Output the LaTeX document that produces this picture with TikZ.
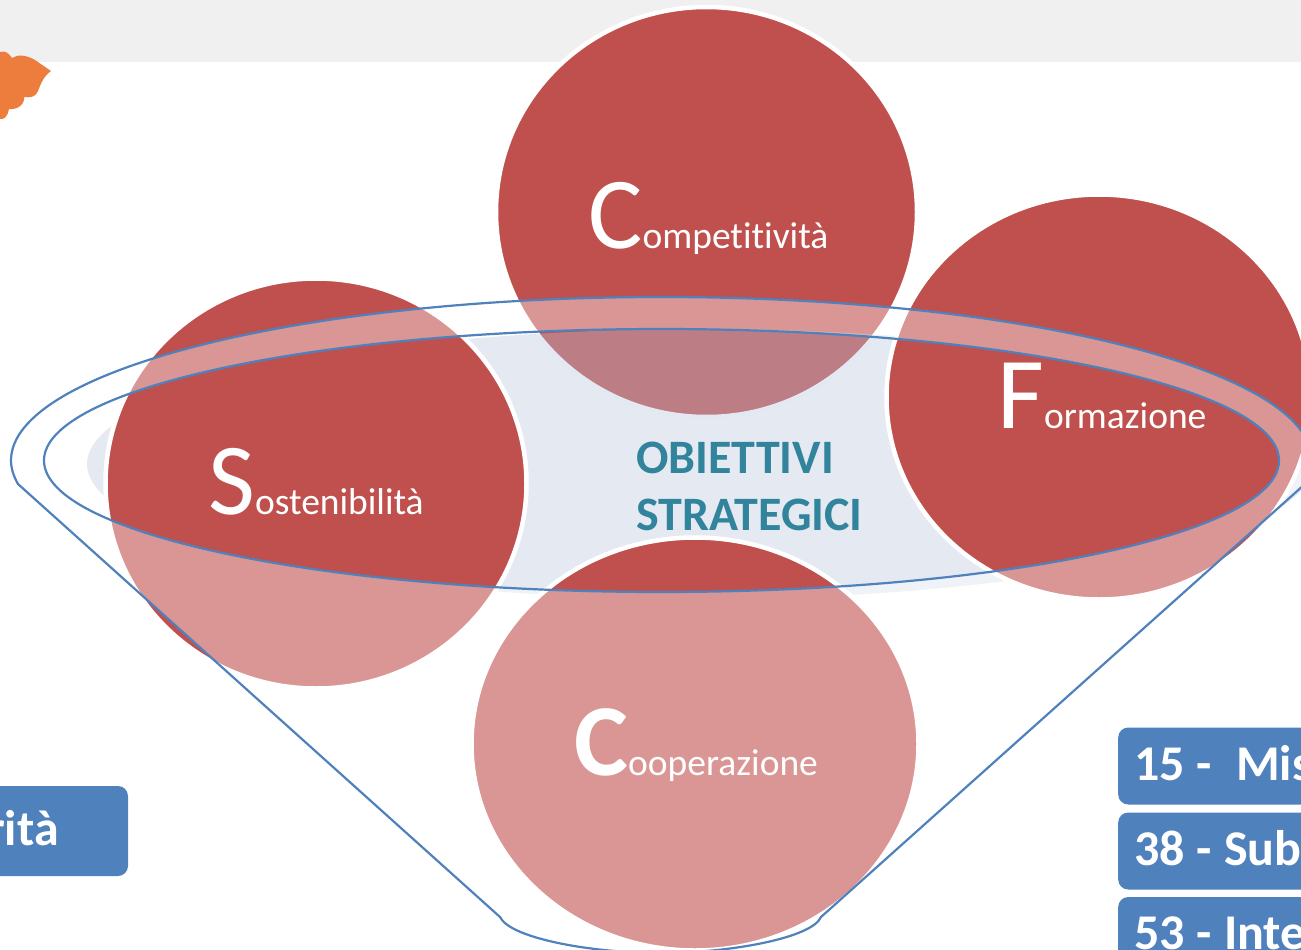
\documentclass[tikz,border=0pt]{standalone}
\usepackage{fontspec}
\setmainfont[Ligatures=NoCommon]{Carlito}
\definecolor{bandgray}{HTML}{F0F0F0}
\definecolor{leaforange}{HTML}{ED7D3C}
\definecolor{discred}{HTML}{C0504D}
\definecolor{funnelblue}{HTML}{4F81BD}
\definecolor{goalblue}{RGB}{186,198,222}
\definecolor{goaltext}{HTML}{31849B}
\newcommand{\capword}[2]{{\fontsize{102}{102}\selectfont #1}{\fontsize{37.5}{38}\selectfont #2}}
\tikzset{
	disc/.style={fill=discred, draw=white, line width=4.5pt},
	discword/.style={anchor=base west, inner sep=0pt, text=white},
	goalword/.style={anchor=base west, inner sep=0pt, text=goaltext, font=\fontsize{48}{48}\selectfont\bfseries},
	funnelline/.style={draw=funnelblue, line width=2.2pt},
	boxfont/.style={font=\fontsize{50}{50}\selectfont\bfseries, execute at begin node={\spaceskip=12pt\relax}},
	numbox/.style={fill=funnelblue, rounded corners=10pt, minimum width=300pt, minimum height=77pt, anchor=west, inner xsep=16pt, inner ysep=0pt, text width=268pt, text height=40pt, text depth=12pt, align=left, text=white, boxfont}
}
\begin{document}
\begin{tikzpicture}[x=1pt, y=-1pt]
		\useasboundingbox (0,0) rectangle (1301,950);
		\clip (0,0) rectangle (1301,950);
		\fill[bandgray] (0,0) rectangle (1301,62);
		\fill[leaforange] (0,52) .. controls (6,50) and (9,54) .. (12,58) .. controls (18,54) and (26,55) .. (35,60) -- (51,71) .. controls (44,76) and (41,83) .. (38,91) .. controls (36,97) and (30,98) .. (24,97) .. controls (25,104) and (18,110) .. (9,109) .. controls (8,116) and (4,120) .. (0,119) -- cycle;
		\draw[disc] (706.5,212) ellipse [x radius=210.5, y radius=205];
		\fill[goalblue, fill opacity=.39] (700,464) ellipse [x radius=613, y radius=135];
		\draw[disc] (316,483.5) ellipse [x radius=210.5, y radius=205];
		\draw[disc] (1099,397) ellipse [x radius=212.5, y radius=202.5];
		\draw[disc] (695,744) ellipse [x radius=223.5, y radius=206.5];
		\fill[white, fill opacity=.4, even odd rule] (18,484) .. controls (14,477) and (11,469) .. (11,460.5) .. controls (11,370.2) and (302.2,297) .. (661.5,297) .. controls (1020.8,297) and (1312,370.2) .. (1312,460.5) .. controls (1312,469) and (1309,477) .. (1305,484) -- (821,917) .. controls (812,938) and (730,953) .. (661,953) .. controls (590,953) and (510,938) .. (500,917) -- cycle (661.5,460.5) ellipse [x radius=617.5, y radius=131.5];
		\draw[funnelline] (18,484) .. controls (14,477) and (11,469) .. (11,460.5) .. controls (11,370.2) and (302.2,297) .. (661.5,297) .. controls (1020.8,297) and (1312,370.2) .. (1312,460.5) .. controls (1312,469) and (1309,477) .. (1305,484) -- (821,917) .. controls (812,938) and (730,953) .. (661,953) .. controls (590,953) and (510,938) .. (500,917) -- cycle;
		\draw[funnelline] (661.5,460.5) ellipse [x radius=617.5, y radius=131.5];
		\node[discword] (competitivita) at (588,248) {\capword{C}{ompetitività}};
		\node[discword] (sostenibilita) at (208,514) {\capword{S}{ostenibilità}};
		\node[discword] (formazione) at (997,428) {\capword{F}{ormazione}};
		\node[discword] (cooperazione) at (574,775) {\capword{\bfseries C}{ooperazione}};
		\node[goalword] (obiettivi) at (636,473) {OBIETTIVI};
		\node[goalword] (strategici) at (636,530) {STRATEGICI};
		\node[numbox] (missione) at (1118,766) {15 -\ \ Mis};
		\node[numbox] (sub) at (1118,851) {38 - Sub};
		\node[numbox] (inter) at (1118,935.5) {53 - Inte};
		\fill[funnelblue, rounded corners=10pt] (-40,786) rectangle (128,876);
		\node[anchor=base west, inner sep=0pt, text=white, boxfont] (priorita) at (-13,845) {rità};
		\end{tikzpicture}
\end{document}
